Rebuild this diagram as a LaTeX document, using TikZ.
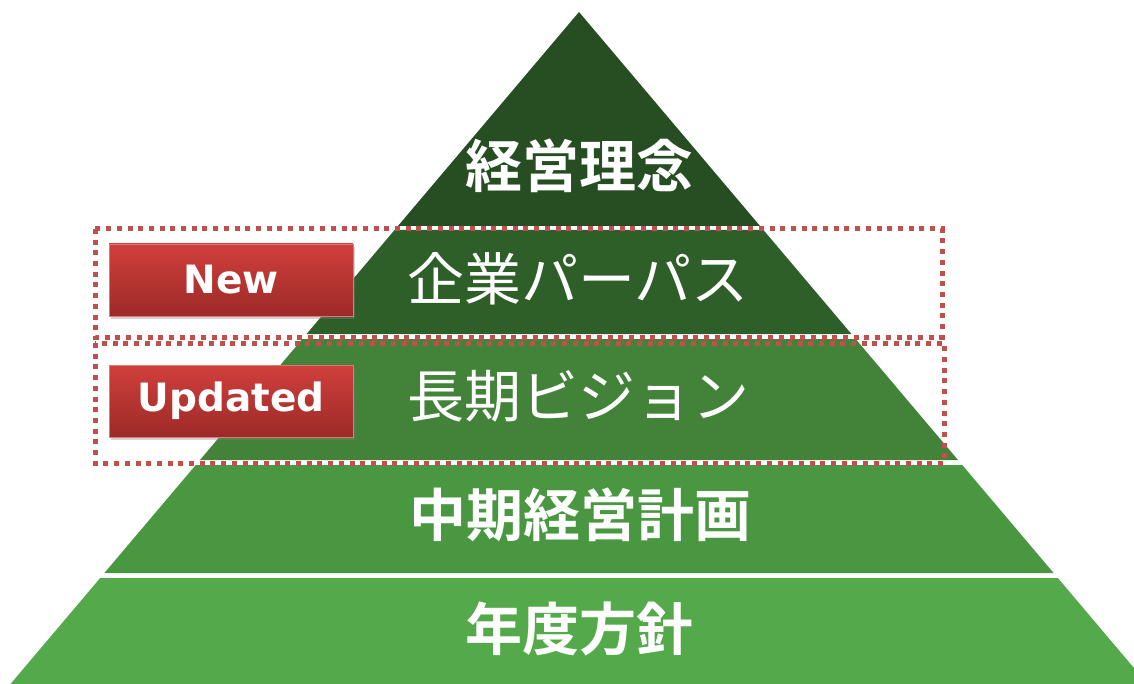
\documentclass[tikz,border=0pt]{standalone}
\usepackage{fontspec}
\newfontfamily\jpfont{Noto Sans CJK JP}[BoldFont={Noto Sans CJK JP Bold}]
\newfontfamily\tagfont{DejaVu Sans}
\usetikzlibrary{shadows}
\definecolor{lvA}{HTML}{264E22}
\definecolor{lvB}{HTML}{2F5F29}
\definecolor{lvC}{HTML}{428339}
\definecolor{lvD}{HTML}{4A9742}
\definecolor{lvE}{HTML}{54AA4A}
\definecolor{dashred}{HTML}{C0504D}
\definecolor{tagtop}{HTML}{D03F3C}
\definecolor{tagbot}{HTML}{9C2A27}

\begin{document}
\begin{tikzpicture}[x=1pt,y=-1pt,
  layertext/.style={text=white,inner sep=0pt,font=\jpfont\fontsize{57}{57}\selectfont},
  tagbox/.style={draw=tagtop!70!white,line width=0.8pt,top color=tagtop,bottom color=tagbot,
    minimum width=244pt,minimum height=72pt,text=white,font=\tagfont\bfseries\fontsize{39}{39}\selectfont,
    drop shadow={opacity=0.35,shadow xshift=2pt,shadow yshift=-3pt}},
  markbox/.style={draw=dashred,line width=5pt,dash pattern=on 5pt off 5.7pt}]
\useasboundingbox (0,0) rectangle (1134,684);
% pyramid layers
\begin{scope}
\clip (0,0) rectangle (1134,684);
\foreach \t/\b/\c in {12/226/lvA,230/334/lvB,339/460/lvC,465/573/lvD,578/690/lvE}
  \fill[\c] ({579-0.846*(\t-12)},\t) -- ({579+0.846*(\t-12)},\t)
    -- ({579+0.846*(\b-12)},\b) -- ({579-0.846*(\b-12)},\b) -- cycle;
\end{scope}
% dotted frames
\draw[markbox] (95,229) rectangle (942,337);
\draw[markbox] (95,343) rectangle (944,463);
% labels
\node[layertext,font=\jpfont\bfseries\fontsize{57}{57}\selectfont] (rinen) at (579,166) {経営理念};
\node[layertext] (purpose) at (578,279) {企業パーパス};
\node[layertext] (vision) at (578,396) {長期ビジョン};
\node[layertext,font=\jpfont\bfseries\fontsize{57}{57}\selectfont] (chuki) at (580,515) {中期経営計画};
\node[layertext,font=\jpfont\bfseries\fontsize{57}{57}\selectfont] (nendo) at (579,629) {年度方針};
\node[tagbox] (new) at (231,280) {New};
\node[tagbox] (upd) at (231,401) {Updated};
\end{tikzpicture}
\end{document}
